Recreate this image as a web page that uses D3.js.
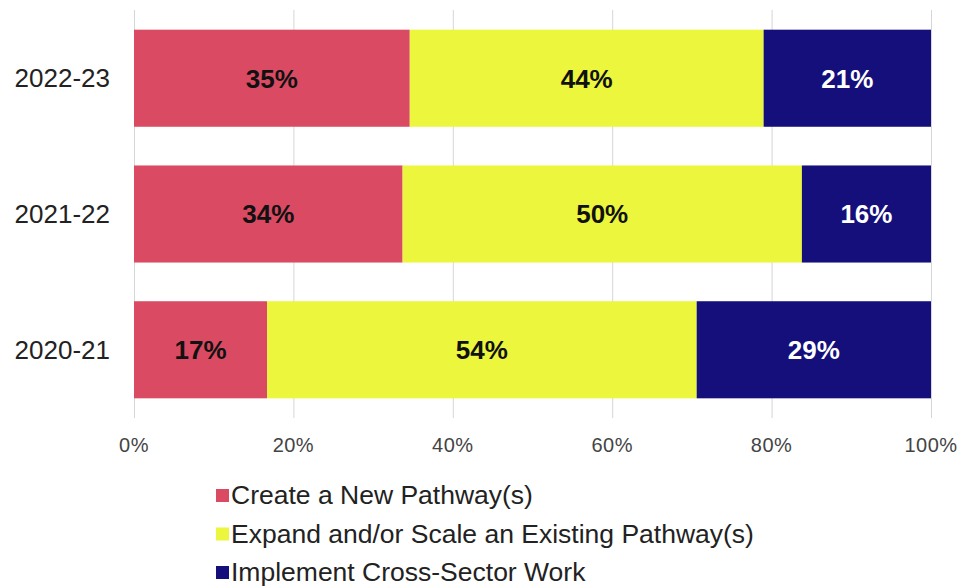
<!DOCTYPE html>
<html>

<head>
  <meta charset="utf-8">
  <style>
    body {
      margin: 0;
      background-color: #ffffff;
      font-family: 'Liberation Sans', Arial, sans-serif;
    }

    .grid line {
      stroke: #d6d6d6;
      stroke-width: 1;
    }

    .year {
      font-size: 26px;
      fill: #222222;
      text-anchor: end;
    }

    .tick-label {
      font-size: 20px;
      fill: #444444;
      text-anchor: middle;
      letter-spacing: 0.5px;
    }

    .value {
      font-size: 26px;
      font-weight: bold;
      text-anchor: middle;
    }

    .legend text {
      font-size: 26.5px;
      fill: #222222;
    }
  </style>
</head>

<body>
  <div id="chart"></div>

  <script src="https://cdn.jsdelivr.net/npm/d3@7"></script>
  <script>
    var years = ['2022-23', '2021-22', '2020-21'];
    var seriesNames = ['Create a New Pathway(s)', 'Expand and/or Scale an Existing Pathway(s)', 'Implement Cross-Sector Work'];
    var createNew = [34.6, 33.7, 16.7];
    var expandScale = [44.4, 50.1, 53.9];
    var crossSector = [21.0, 16.2, 29.4];
    var labelCreate = ['35%', '34%', '17%'];
    var labelExpand = ['44%', '50%', '54%'];
    var labelCross = ['21%', '16%', '29%'];
    var tickValues = [0, 20, 40, 60, 80, 100];

    var width = 961,
      height = 587;

    var plot = {
      left: 134,
      right: 931,
      top: 10,
      bottom: 418
    };

    var colors = ['#da4b63', '#ebf63c', '#140f7b'];
    var textColors = ['#111111', '#111111', '#ffffff'];

    var svg = d3.select('#chart').append('svg')
      .attr('width', width)
      .attr('height', height);

    var x = d3.scaleLinear()
      .domain([0, 100])
      .range([plot.left, plot.right]);

    var y = d3.scaleBand()
      .domain(years)
      .range([plot.top, plot.bottom])
      .paddingInner(0.285)
      .paddingOuter(0.145);

    // rows for the stack
    var rows = years.map(function(yr, i) {
      return {
        year: yr,
        create: createNew[i],
        expand: expandScale[i],
        cross: crossSector[i],
        labels: [labelCreate[i], labelExpand[i], labelCross[i]]
      };
    });

    var stack = d3.stack().keys(['create', 'expand', 'cross']);
    var layers = stack(rows);

    // vertical gridlines
    svg.append('g')
      .attr('class', 'grid')
      .selectAll('line')
      .data(tickValues)
      .enter().append('line')
      .attr('x1', function(d) { return x(d) + 0.5; })
      .attr('x2', function(d) { return x(d) + 0.5; })
      .attr('y1', plot.top)
      .attr('y2', plot.bottom);

    // tick labels
    svg.append('g')
      .selectAll('text')
      .data(tickValues)
      .enter().append('text')
      .attr('class', 'tick-label')
      .attr('x', function(d) { return x(d); })
      .attr('y', 452)
      .text(function(d) { return d + '%'; });

    // bars
    var layer = svg.append('g')
      .selectAll('g')
      .data(layers)
      .enter().append('g')
      .attr('fill', function(d, i) { return colors[i]; });

    layer.selectAll('rect')
      .data(function(d) { return d; })
      .enter().append('rect')
      .attr('x', function(d) { return x(d[0]); })
      .attr('y', function(d) { return y(d.data.year); })
      .attr('width', function(d) { return x(d[1]) - x(d[0]); })
      .attr('height', y.bandwidth());

    // value labels
    layers.forEach(function(l, i) {
      svg.append('g')
        .selectAll('text')
        .data(l)
        .enter().append('text')
        .attr('class', 'value')
        .attr('fill', textColors[i])
        .attr('x', function(d) { return (x(d[0]) + x(d[1])) / 2; })
        .attr('y', function(d) { return y(d.data.year) + y.bandwidth() / 2; })
        .attr('dy', '0.36em')
        .text(function(d) { return d.data.labels[i]; });
    });

    // year labels
    svg.append('g')
      .selectAll('text')
      .data(years)
      .enter().append('text')
      .attr('class', 'year')
      .attr('x', 110)
      .attr('y', function(d) { return y(d) + y.bandwidth() / 2; })
      .attr('dy', '0.34em')
      .text(function(d) { return d; });

    // legend
    var legend = svg.append('g')
      .attr('class', 'legend')
      .selectAll('g')
      .data(seriesNames)
      .enter().append('g')
      .attr('transform', function(d, i) {
        return 'translate(216,' + (495 + i * 38.5) + ')';
      });

    legend.append('rect')
      .attr('x', 0)
      .attr('y', -6)
      .attr('width', 13)
      .attr('height', 13)
      .attr('fill', function(d, i) { return colors[i]; });

    legend.append('text')
      .attr('x', 15)
      .attr('y', 0)
      .attr('dy', '0.35em')
      .text(function(d) { return d; });
  </script>

</body>

</html>
